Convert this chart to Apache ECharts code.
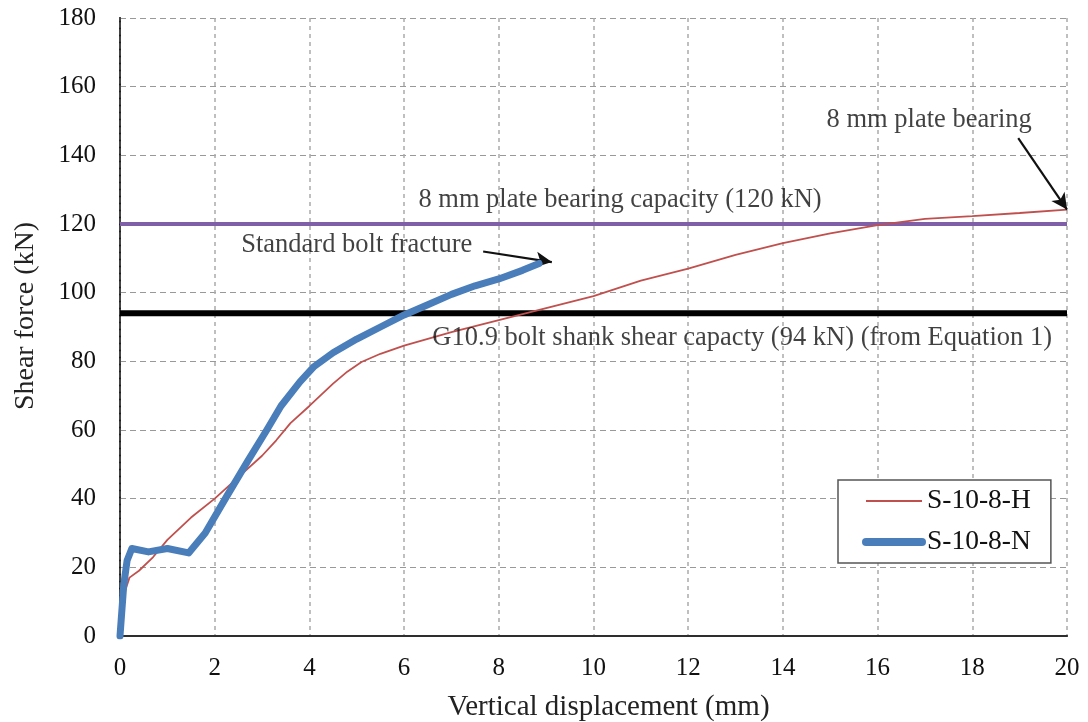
<!DOCTYPE html>
<html>
<head>
<meta charset="utf-8">
<script src="https://cdn.jsdelivr.net/npm/echarts@6/dist/echarts.min.js"></script>
<style>html,body{margin:0;padding:0;background:#fff}#c{width:1088px;height:722px}</style>
</head>
<body>
<div id="c"></div>
<script>
// Data
const seriesNames = ['S-10-8-H', 'S-10-8-N'];
const dataH = [[0,0],[0.08,12],[0.2,17],[0.4,19],[0.7,23],[1,28],[1.5,34.5],[2,40],[2.6,47.5],[3,52.5],[3.3,57],[3.6,62],[4,67],[4.5,73.5],[4.8,77],[5.1,79.8],[5.5,82.2],[6,84.6],[7,88.5],[8,92],[9,95.5],[10,99],[11,103.5],[12,107],[13,111],[14,114.4],[15,117.3],[16,119.7],[17,121.5],[18,122.3],[19,123.2],[20,124.2]];
const dataN = [[0,0],[0.08,15],[0.15,22],[0.25,25.5],[0.6,24.5],[1.0,25.5],[1.45,24.2],[1.8,30],[2.25,40.6],[2.7,51],[3.1,60],[3.4,67],[3.8,74],[4.1,78.5],[4.5,82.5],[5,86.5],[5.5,90],[6,93.5],[6.5,96.5],[7,99.5],[7.5,102],[8,104],[8.5,106.5],[8.85,108.5]];
const boltCapacity = 94;   // kN
const plateCapacity = 120; // kN
const xRange = [0, 20];
const yRange = [0, 180];
const annotations = [
  [10.56, 127, '8 mm plate bearing capacity (120 kN)'],
  [5.0, 113.9, 'Standard bolt fracture'],
  [13.14, 86.8, 'G10.9 bolt shank shear capacty (94 kN) (from Equation 1)'],
  [17.09, 150.3, '8 mm plate bearing']
];
const arrows = [
  [[7.67, 112], [9.12, 108.9]],
  [[18.97, 145], [20, 124.2]]
];

const FONT = 'Liberation Serif';
const chart = echarts.init(document.getElementById('c'));
chart.setOption({
  backgroundColor: '#fff',
  animation: false,
  grid: { left: 120, right: 21, top: 18, bottom: 86, outerBoundsMode: 'none', containLabel: false },
  legend: {
    data: [
      { name: seriesNames[0], lineStyle: { width: 2, color: '#c0504d' } },
      { name: seriesNames[1], lineStyle: { width: 8, color: '#4a7ebb', cap: 'round' } }
    ],
    orient: 'vertical',
    left: 838, top: 480,
    padding: [7, 20, 7, 24],
    itemGap: 13,
    itemWidth: 56, itemHeight: 30,
    itemStyle: { opacity: 0 },
    backgroundColor: '#fff',
    borderColor: '#555', borderWidth: 1.5, borderRadius: 0,
    textStyle: { fontFamily: FONT, fontSize: 27.5, color: '#111', padding: [0, 0, 0, 0] }
  },
  xAxis: [{
    type: 'value', min: xRange[0], max: xRange[1], interval: 2,
    name: 'Vertical displacement (mm)', nameLocation: 'middle', nameGap: 57,
    nameTextStyle: { fontFamily: FONT, fontSize: 29, color: '#222', padding: [0, 0, 0, 30] },
    axisLine: { show: true, lineStyle: { color: '#222', width: 2 } },
    axisTick: { show: false },
    axisLabel: { fontFamily: FONT, fontSize: 25, color: '#111', margin: 20 },
    splitLine: { show: true, lineStyle: { type: [4, 4], color: '#aaa', width: 1.5 } }
  }, {
    type: 'value', position: 'top', min: xRange[0], max: xRange[1],
    axisLine: { show: true, lineStyle: { color: '#333', width: 1.5 } },
    axisTick: { show: false }, axisLabel: { show: false }, splitLine: { show: false }
  }],
  yAxis: [{
    type: 'value', min: yRange[0], max: yRange[1], interval: 20,
    name: 'Shear force (kN)', nameLocation: 'middle', nameGap: 80,
    nameTextStyle: { fontFamily: FONT, fontSize: 28, color: '#222', padding: [0, 0, 0, 22] },
    axisLine: { show: true, lineStyle: { color: '#222', width: 2 } },
    axisTick: { show: false },
    axisLabel: { fontFamily: FONT, fontSize: 25, color: '#111', margin: 24 },
    splitLine: { show: true, lineStyle: { type: [6, 4], color: '#999', width: 1.2 } }
  }, {
    type: 'value', position: 'right', min: yRange[0], max: yRange[1],
    axisLine: { show: true, lineStyle: { color: '#444', width: 2, type: [4, 3] } },
    axisTick: { show: false }, axisLabel: { show: false }, splitLine: { show: false }
  }],
  series: [
    {
      name: 'bolt', type: 'line', data: [[xRange[0], boltCapacity], [xRange[1], boltCapacity]],
      symbol: 'none', lineStyle: { color: '#000', width: 6 }, silent: true, z: 3
    },
    {
      name: 'plate', type: 'line', data: [[xRange[0], plateCapacity], [xRange[1], plateCapacity]],
      symbol: 'none', lineStyle: { color: '#7f5fa8', width: 4 }, silent: true, z: 3
    },
    {
      name: seriesNames[0], type: 'line', data: dataH, symbol: 'none',
      color: '#c0504d', lineStyle: { color: '#c0504d', width: 1.8 }, z: 4
    },
    {
      name: seriesNames[1], type: 'line', data: dataN, symbol: 'none',
      color: '#4a7ebb', lineStyle: { color: '#4a7ebb', width: 7, cap: 'round', join: 'round' }, z: 5
    },
    {
      name: 'notes', type: 'scatter', data: annotations, symbolSize: 0, silent: true, z: 6,
      label: {
        show: true, position: 'inside', formatter: p => p.value[2],
        fontFamily: FONT, fontSize: 26.5, color: '#111'
      },
      markLine: {
        silent: true, symbol: ['none', 'arrow'], symbolSize: [12, 16],
        label: { show: false },
        lineStyle: { color: '#111', width: 2.2, type: 'solid' },
        data: arrows.map(a => [{ coord: a[0] }, { coord: a[1] }])
      }
    }
  ]
});
</script>
</body>
</html>
